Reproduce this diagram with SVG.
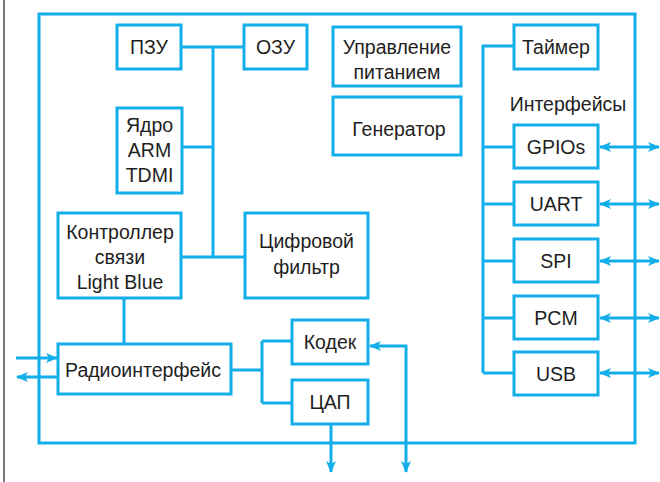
<svg xmlns="http://www.w3.org/2000/svg" width="660" height="482" viewBox="0 0 660 482">
<style>
.b{fill:#fff;stroke:#12aeea;stroke-width:3}
.c{fill:none;stroke:#12aeea;stroke-width:3}
.t{font-family:"Liberation Sans",Arial,sans-serif;font-size:19.5px;fill:#1e1e1e;text-anchor:middle}
</style>
<defs>
<marker id="ah" viewBox="0 0 12 10" refX="11" refY="5" markerWidth="12" markerHeight="10" markerUnits="userSpaceOnUse" orient="auto-start-reverse">
<path d="M0,0 L12,5 L0,10 L3,5 z" fill="#12aeea"/>
</marker>
</defs>
<rect width="660" height="482" fill="#fff"/>
<line x1="4" y1="0" x2="4" y2="482" stroke="#777" stroke-width="2"/>
<rect x="39" y="14" width="596" height="429" class="c"/>
<g id="connectors">
<path class="c" d="M182,47 H244 M213,47 V257 M182,147 H213 M181,257 H245"/>
<path class="c" d="M124,298 V344"/>
<path class="c" d="M231,370 H262 M262,341 V403 M262,341 H292 M262,403 H292"/>
<path class="c" d="M16,358 H57" marker-end="url(#ah)"/>
<path class="c" d="M58,377 H17" marker-end="url(#ah)"/>
<path class="c" d="M331,424 V472" marker-end="url(#ah)"/>
<path class="c" d="M370,346 H406 V472" marker-start="url(#ah)" marker-end="url(#ah)"/>
<path class="c" d="M514,46 H483 V373 M483,147 H514 M483,204 H514 M483,261 H514 M483,318 H514 M483,373 H514"/>
<path class="c" d="M600,147 H659" marker-start="url(#ah)" marker-end="url(#ah)"/>
<path class="c" d="M600,204 H659" marker-start="url(#ah)" marker-end="url(#ah)"/>
<path class="c" d="M600,261 H659" marker-start="url(#ah)" marker-end="url(#ah)"/>
<path class="c" d="M600,318 H659" marker-start="url(#ah)" marker-end="url(#ah)"/>
<path class="c" d="M600,373 H659" marker-start="url(#ah)" marker-end="url(#ah)"/>
</g>
<g id="pzu"><rect x="117" y="25" width="64" height="44" class="b"/><text x="149" y="54" class="t">ПЗУ</text></g>
<g id="ozu"><rect x="244" y="25" width="63" height="44" class="b"/><text x="275.5" y="54" class="t">ОЗУ</text></g>
<g id="core"><rect x="117" y="108" width="65" height="85" class="b"/><text x="149.5" y="132" class="t">Ядро</text><text x="149.5" y="157" class="t">ARM</text><text x="149.5" y="182" class="t">TDMI</text></g>
<g id="ctrl"><rect x="58" y="213" width="123" height="85" class="b"/><text x="120" y="239" class="t">Контроллер</text><text x="120" y="264" class="t">связи</text><text x="120" y="289" class="t">Light Blue</text></g>
<g id="dsp"><rect x="245" y="213" width="123" height="85" class="b"/><text x="306.5" y="248" class="t">Цифровой</text><text x="306.5" y="274" class="t">фильтр</text></g>
<g id="radio"><rect x="58" y="344" width="173" height="50" class="b"/><text x="143" y="377" class="t">Радиоинтерфейс</text></g>
<g id="codec"><rect x="292" y="320" width="76" height="44" class="b"/><text x="330" y="349" class="t">Кодек</text></g>
<g id="dac"><rect x="292" y="380" width="76" height="44" class="b"/><text x="330" y="409" class="t">ЦАП</text></g>
<g id="power"><rect x="333" y="27" width="128" height="59" class="b"/><text x="397" y="54" class="t">Управление</text><text x="397" y="79" class="t">питанием</text></g>
<g id="gen"><rect x="333" y="97" width="128" height="58" class="b"/><text x="399" y="136" class="t">Генератор</text></g>
<g id="timer"><rect x="514" y="25" width="84" height="44" class="b"/><text x="556" y="54" class="t">Таймер</text></g>
<text x="568" y="111" class="t">Интерфейсы</text>
<g id="gpio"><rect x="514" y="125" width="84" height="43" class="b"/><text x="556" y="154" class="t">GPIOs</text></g>
<g id="uart"><rect x="514" y="182" width="84" height="43" class="b"/><text x="556" y="211" class="t">UART</text></g>
<g id="spi"><rect x="514" y="239" width="84" height="43" class="b"/><text x="556" y="268" class="t">SPI</text></g>
<g id="pcm"><rect x="514" y="296" width="84" height="43" class="b"/><text x="556" y="325" class="t">PCM</text></g>
<g id="usb"><rect x="514" y="352" width="84" height="43" class="b"/><text x="556" y="381" class="t">USB</text></g>
</svg>
